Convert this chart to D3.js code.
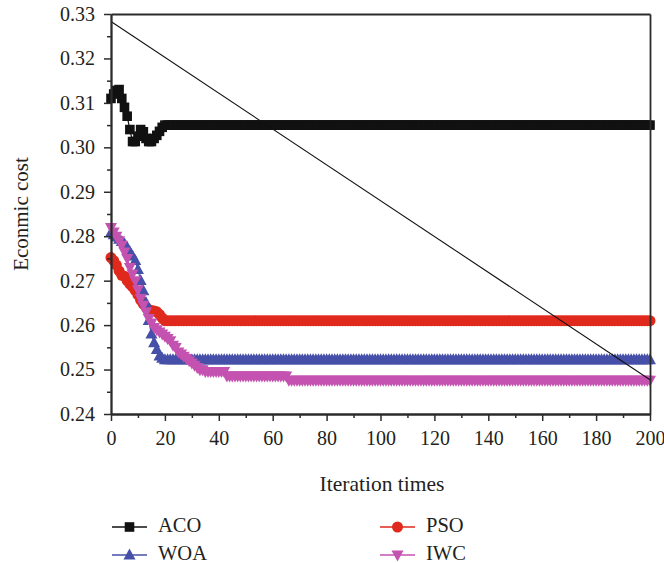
<!DOCTYPE html>
<html>
<head>
<meta charset="utf-8">
<script src="https://cdn.jsdelivr.net/npm/d3@7"></script>
<style>
  html, body { margin: 0; padding: 0; background: #fff; }
  svg { display: block; }
  svg text { font-family: 'Liberation Serif', 'Times New Roman', Times, serif !important; fill: #231f20; }
</style>
</head>
<body>
<svg id="chart" width="664" height="563"></svg>
<script>
// Convergence of economic cost per iteration, stored as runs of [value, repeat count]
const acoRuns = [
  [0.3110, 1], [0.3120, 1], [0.3128, 1], [0.3130, 1], [0.3110, 1], [0.3090, 1],
  [0.3070, 1], [0.3040, 1], [0.3013, 2], [0.3025, 1], [0.3040, 1], [0.3035, 1],
  [0.3020, 1], [0.3013, 2], [0.3020, 1], [0.3027, 1], [0.3036, 1], [0.3045, 1],
  [0.3050, 181]
];
const psoRuns = [
  [0.2752, 1], [0.2745, 1], [0.2735, 1], [0.2722, 1], [0.2712, 1], [0.2710, 1],
  [0.2700, 1], [0.2692, 1], [0.2686, 1], [0.2678, 1], [0.2668, 1], [0.2656, 1],
  [0.2647, 1], [0.2640, 1], [0.2635, 1], [0.2633, 1], [0.2632, 1], [0.2630, 1],
  [0.2624, 1], [0.2616, 1], [0.2610, 181]
];
const woaRuns = [
  [0.2808, 1], [0.2803, 1], [0.2798, 1], [0.2793, 1], [0.2788, 1], [0.2783, 1],
  [0.2775, 1], [0.2765, 1], [0.2755, 1], [0.2745, 1], [0.2725, 1], [0.2700, 1],
  [0.2677, 1], [0.2650, 1], [0.2610, 1], [0.2580, 1], [0.2560, 1], [0.2545, 1],
  [0.2530, 1], [0.2525, 1], [0.2522, 181]
];
const iwcRuns = [
  [0.2820, 1], [0.2810, 1], [0.2800, 1], [0.2790, 1], [0.2780, 1], [0.2765, 1],
  [0.2750, 1], [0.2730, 1], [0.2715, 1], [0.2700, 1], [0.2680, 1], [0.2660, 1],
  [0.2645, 1], [0.2630, 1], [0.2615, 1], [0.2605, 1], [0.2595, 1], [0.2590, 1],
  [0.2585, 1], [0.2580, 1], [0.2575, 1], [0.2570, 1], [0.2565, 1], [0.2555, 1],
  [0.2550, 1], [0.2540, 1], [0.2535, 1], [0.2530, 1], [0.2525, 1], [0.2520, 1],
  [0.2515, 1], [0.2510, 1], [0.2505, 1], [0.2500, 2], [0.2496, 8], [0.2486, 23],
  [0.2476, 135]
];
// Straight reference segment drawn across the plot
const guideLine = [[0, 0.3283], [200, 0.2477]];

const seriesNames = ["ACO", "PSO", "WOA", "IWC"];
const seriesColors = ["#111111", "#e0291d", "#4650a8", "#c452b0"];
const seriesShapes = ["square", "circle", "triangleUp", "triangleDown"];

const xTicks = [0, 20, 40, 60, 80, 100, 120, 140, 160, 180, 200];
const xMinorTicks = [10, 30, 50, 70, 90, 110, 130, 150, 170, 190];
const yTicks = [0.24, 0.25, 0.26, 0.27, 0.28, 0.29, 0.30, 0.31, 0.32, 0.33];
const yMinorTicks = [0.245, 0.255, 0.265, 0.275, 0.285, 0.295, 0.305, 0.315, 0.325];

const xTitle = "Iteration times";
const yTitle = "Econmic cost";

const serifFont = "'Liberation Serif', 'Times New Roman', Times, serif";

// decode runs into [iteration, value] points
function decode(runs) {
  const pts = [];
  runs.forEach(([v, n]) => { for (let k = 0; k < n; k++) pts.push([pts.length, v]); });
  return pts;
}
const seriesData = [acoRuns, psoRuns, woaRuns, iwcRuns].map(decode);

const svg = d3.select("#chart").style("font-family", serifFont);
const plotLeft = 111, plotRight = 650, plotTop = 14, plotBottom = 414;
const x = d3.scaleLinear().domain([0, 200]).range([plotLeft, plotRight]);
const y = d3.scaleLinear().domain([0.24, 0.33]).range([plotBottom, plotTop]);

const axisColor = "#2b2b2b";

// marker path generator
function markerPath(shape) {
  switch (shape) {
    case "square": return "M-4.8,-4.8H4.8V4.8H-4.8Z";
    case "circle": return d3.symbol(d3.symbolCircle, Math.PI * 5.5 * 5.5)();
    case "triangleUp": return "M0,-6.6L6,4.4H-6Z";
    case "triangleDown": return "M0,6.6L6,-4.4H-6Z";
  }
}

// series: connecting line then markers
const line = d3.line().x(d => x(d[0])).y(d => y(d[1]));
seriesData.forEach((pts, i) => {
  const g = svg.append("g").attr("class", "series-" + seriesNames[i]);
  g.append("path").attr("d", line(pts)).attr("fill", "none")
    .attr("stroke", seriesColors[i]).attr("stroke-width", 1.2);
  g.selectAll("path.m").data(pts).join("path").attr("class", "m")
    .attr("d", markerPath(seriesShapes[i]))
    .attr("transform", d => `translate(${x(d[0])},${y(d[1])})`)
    .attr("fill", seriesColors[i]);
});

// reference segment
svg.append("path").attr("d", line(guideLine)).attr("fill", "none")
  .attr("stroke", "#111").attr("stroke-width", 1.1);

// axes
function styleAxis(g) {
  g.attr("font-family", null);
  g.selectAll("path.domain").attr("stroke", axisColor).attr("stroke-width", 1.8);
  g.selectAll(".tick line").attr("stroke", axisColor).attr("stroke-width", 1.5);
  g.selectAll("text").attr("font-size", 20).style("font-family", serifFont).attr("fill", "#231f20");
}

svg.append("g").attr("transform", `translate(0,${plotBottom})`)
  .call(d3.axisBottom(x).tickValues(xMinorTicks).tickSize(4).tickSizeOuter(0).tickFormat(""))
  .call(styleAxis);
svg.append("g").attr("transform", `translate(0,${plotBottom})`)
  .call(d3.axisBottom(x).tickValues(xTicks).tickSize(7).tickSizeOuter(0).tickPadding(10).tickFormat(d3.format("d")))
  .call(styleAxis);

svg.append("g").attr("transform", `translate(${plotLeft},0)`)
  .call(d3.axisLeft(y).tickValues(yMinorTicks).tickSize(4).tickSizeOuter(0).tickFormat(""))
  .call(styleAxis);
svg.append("g").attr("transform", `translate(${plotLeft},0)`)
  .call(d3.axisLeft(y).tickValues(yTicks).tickSize(7).tickSizeOuter(0).tickPadding(9).tickFormat(d3.format(".2f")))
  .call(styleAxis);

// top and right frame
svg.append("g").attr("transform", `translate(0,${plotTop})`)
  .call(d3.axisTop(x).tickValues([]).tickSizeOuter(0)).call(styleAxis);
svg.append("g").attr("transform", `translate(${plotRight},0)`)
  .call(d3.axisRight(y).tickValues([]).tickSizeOuter(0)).call(styleAxis);

// axis titles
svg.append("text").attr("x", 382).attr("y", 491).attr("text-anchor", "middle")
  .attr("font-size", 21.5).style("font-family", serifFont).text(xTitle);
svg.append("text").attr("transform", `translate(28,${(plotTop + plotBottom) / 2}) rotate(-90)`)
  .attr("text-anchor", "middle").attr("font-size", 21).style("font-family", serifFont).text(yTitle);

// legend, two columns
const legendPos = [[112, 527], [380, 527], [112, 555], [380, 555]];
seriesNames.forEach((name, i) => {
  const [lx, ly] = legendPos[i];
  const g = svg.append("g").attr("transform", `translate(${lx},${ly})`);
  g.append("line").attr("x1", 0).attr("x2", 35).attr("stroke", seriesColors[i]).attr("stroke-width", 1.5);
  g.append("path").attr("d", markerPath(seriesShapes[i])).attr("transform", "translate(17.5,0)")
    .attr("fill", seriesColors[i]);
  g.append("text").attr("x", 46).attr("y", 5).attr("font-size", 20.5).style("font-family", serifFont).text(name);
});
</script>
</body>
</html>
